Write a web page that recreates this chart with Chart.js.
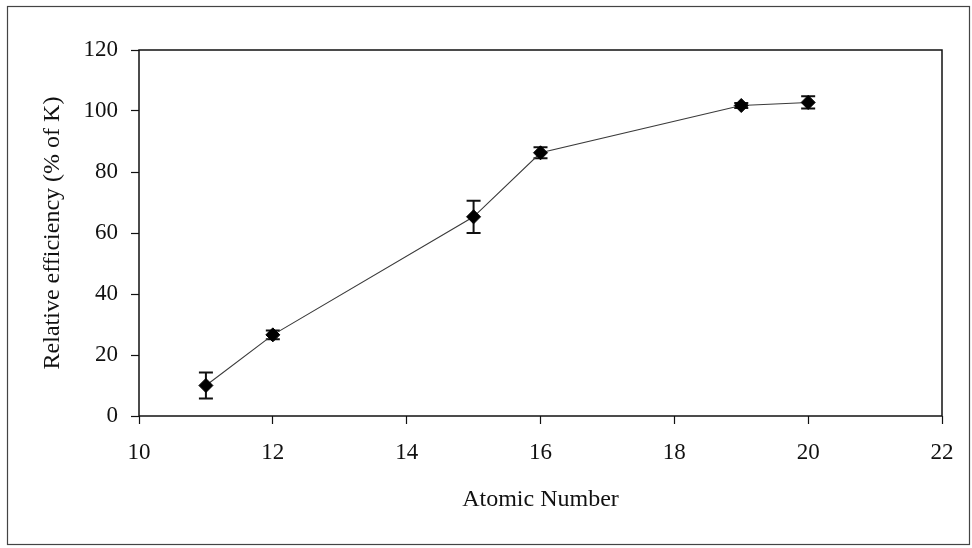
<!DOCTYPE html>
<html>
<head>
<meta charset="utf-8">
<title>Relative efficiency vs atomic number</title>
<script src="https://cdn.jsdelivr.net/npm/chart.js@4/dist/chart.umd.min.js"></script>
<style>
    html, body { margin: 0; padding: 0; background: #fff; }
    #wrap { width: 972px; height: 548px; }
</style>
</head>
<body>
<div id="wrap"><canvas id="efficiency-chart" width="972" height="548"></canvas></div>
<script>
// atomic number of each element measured
const atomicNumbers = [11, 12, 15, 16, 19, 20];
// relative efficiency, % of K
const efficiency = [10, 26.6, 65.3, 86.3, 101.8, 102.8];
// +/- spread for each point
const efficiencyErr = [4.3, 1.4, 5.3, 1.8, 0.8, 2];

const xTicks = [10, 12, 14, 16, 18, 20, 22];
const yTicks = [0, 20, 40, 60, 80, 100, 120];

const serif = "'Liberation Serif', 'DejaVu Serif', serif";

// error bars with flat caps, drawn under the markers
const errorBars = {
    id: 'errorBars',
    beforeDatasetsDraw(chart) {
        const ctx = chart.ctx;
        const x = chart.scales.x, y = chart.scales.y;
        ctx.save();
        ctx.strokeStyle = '#111';
        ctx.lineWidth = 2;
        atomicNumbers.forEach(function (n, i) {
            const px = x.getPixelForValue(n);
            const top = y.getPixelForValue(efficiency[i] + efficiencyErr[i]);
            const bot = y.getPixelForValue(efficiency[i] - efficiencyErr[i]);
            ctx.beginPath();
            ctx.moveTo(px, top);
            ctx.lineTo(px, bot);
            ctx.moveTo(px - 7, top);
            ctx.lineTo(px + 7, top);
            ctx.moveTo(px - 7, bot);
            ctx.lineTo(px + 7, bot);
            ctx.stroke();
        });
        ctx.restore();
    }
};

// plot box plus the outer frame round the whole figure
const frames = {
    id: 'frames',
    afterDraw(chart) {
        const ctx = chart.ctx;
        const a = chart.chartArea;
        ctx.save();
        ctx.strokeStyle = '#111';
        ctx.lineWidth = 1.5;
        ctx.strokeRect(a.left, a.top, a.right - a.left, a.bottom - a.top);
        ctx.strokeStyle = '#444';
        ctx.lineWidth = 1.2;
        ctx.strokeRect(7.5, 6.5, 962, 538);
        ctx.restore();
    }
};

new Chart(document.getElementById('efficiency-chart'), {
    type: 'scatter',
    data: {
        datasets: [{
            data: atomicNumbers.map(function (n, i) { return {x: n, y: efficiency[i]}; }),
            showLine: true,
            borderColor: '#3a3a3a',
            borderWidth: 1.1,
            pointStyle: 'rectRot',
            pointRadius: 7,
            pointBackgroundColor: '#000',
            pointBorderColor: '#000',
            pointBorderWidth: 1
        }]
    },
    options: {
        responsive: false,
        animation: false,
        layout: { padding: { top: 50, right: 30, left: 0, bottom: 0 } },
        plugins: {
            legend: { display: false },
            tooltip: { enabled: false }
        },
        scales: {
            x: {
                type: 'linear',
                min: 10,
                max: 22,
                afterBuildTicks: function (scale) {
                    scale.ticks = xTicks.map(function (v) { return {value: v}; });
                },
                afterFit: function (scale) { scale.height = 132; },
                grid: { drawOnChartArea: false, color: '#111', tickLength: 8, tickWidth: 1.2 },
                border: { display: false },
                ticks: {
                    color: '#111',
                    padding: 15,
                    maxRotation: 0,
                    font: { family: serif, size: 23 }
                },
                title: {
                    display: true,
                    text: 'Atomic Number',
                    color: '#111',
                    padding: { top: 0, bottom: 34 },
                    font: { family: serif, size: 24 }
                }
            },
            y: {
                type: 'linear',
                min: 0,
                max: 120,
                afterBuildTicks: function (scale) {
                    scale.ticks = yTicks.map(function (v) { return {value: v}; });
                },
                afterFit: function (scale) { scale.width = 139; },
                grid: { drawOnChartArea: false, color: '#111', tickLength: 8, tickWidth: 1.2 },
                border: { display: false },
                ticks: {
                    color: '#111',
                    padding: 13,
                    font: { family: serif, size: 23 }
                },
                title: {
                    display: true,
                    text: 'Relative efficiency (% of K)',
                    color: '#111',
                    padding: { top: 38, bottom: 0 },
                    font: { family: serif, size: 24 }
                }
            }
        }
    },
    plugins: [errorBars, frames]
});
</script>
</body>
</html>
